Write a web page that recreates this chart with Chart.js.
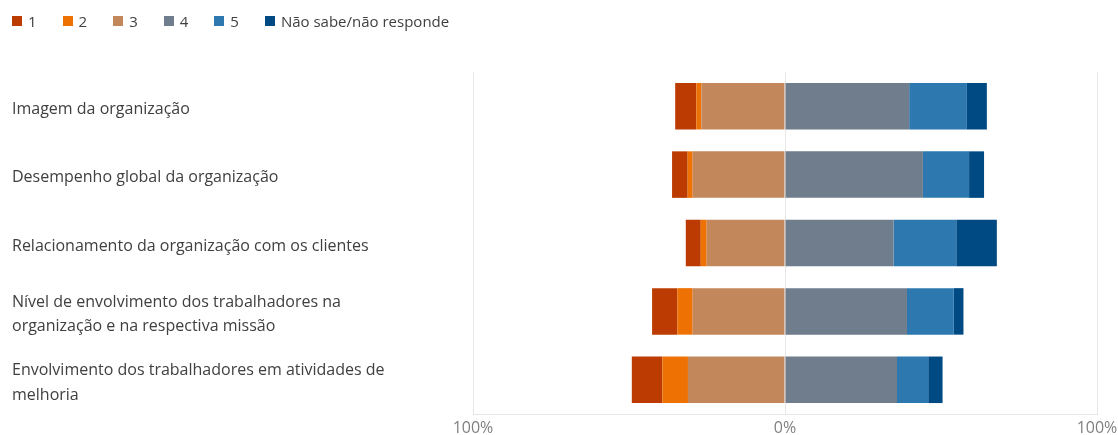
<!DOCTYPE html>
<html lang="pt">
<head>
<meta charset="utf-8">
<title>Avaliação da organização</title>
<script src="https://cdn.jsdelivr.net/npm/chart.js@4.4.1/dist/chart.umd.min.js"></script>
<style>
    html, body { margin: 0; padding: 0; background: #fff; }
    #wrap { position: relative; width: 1118px; height: 435px; }
    #legend {
        position: absolute; top: 11px; left: 12px;
        display: flex; align-items: center;
        font: 15px "Open Sans", sans-serif; line-height: 20px; color: #404040;
    }
    #legend .item { display: flex; align-items: center; margin-right: 26px; }
    #legend .box { width: 10px; height: 10px; margin-right: 6px; }
</style>
</head>
<body>
<div id="wrap">
    <canvas id="likertChart"></canvas>
    <div id="legend"></div>
</div>
<script>
const categories = [
    "Imagem da organização",
    "Desempenho global da organização",
    "Relacionamento da organização com os clientes",
    ["Nível de envolvimento dos trabalhadores na", "organização e na respectiva missão"],
    ["Envolvimento dos trabalhadores em atividades de", "melhoria"]
];

// percentagens de resposta por item (1 = pior ... 5 = melhor)
const answers1 = [6.8, 5.0, 4.8, 8.1, 9.8];
const answers2 = [1.6, 1.6, 1.9, 4.9, 8.2];
const answers3 = [26.8, 29.6, 25.1, 29.6, 31.1];
const answers4 = [39.8, 44.2, 34.8, 39.1, 35.9];
const answers5 = [18.5, 14.8, 20.1, 15.0, 10.0];
const answersNS = [6.4, 4.8, 13.0, 3.1, 4.6];

const seriesNames = ["1", "2", "3", "4", "5", "Não sabe/não responde"];
const axisTicks = [-100, 0, 100];

const COLORS = ["#BB3B02", "#EE7203", "#C2875B", "#6F7D8C", "#2C78AF", "#004A83"];

// 1-3 ficam à esquerda do zero, 3 encostado ao eixo
const negative = v => -v;
const seriesValues = [
    answers1.map(negative),
    answers2.map(negative),
    answers3.map(negative),
    answers4,
    answers5,
    answersNS
];
const stackOrder = [3, 2, 1, 4, 5, 6];

const FONT = "'Open Sans', sans-serif";

const htmlLegend = {
    id: "htmlLegend",
    afterUpdate(chart) {
        const container = document.getElementById("legend");
        container.innerHTML = "";
        chart.data.datasets.forEach(ds => {
            const item = document.createElement("div");
            item.className = "item";
            const box = document.createElement("span");
            box.className = "box";
            box.style.background = ds.backgroundColor;
            const text = document.createElement("span");
            text.textContent = ds.label;
            item.appendChild(box);
            item.appendChild(text);
            container.appendChild(item);
        });
    }
};

new Chart("likertChart", {
    type: "bar",
    data: {
        labels: categories,
        datasets: seriesNames.map((name, i) => ({
            label: name,
            data: seriesValues[i],
            backgroundColor: COLORS[i],
            borderWidth: 0,
            order: stackOrder[i],
            categoryPercentage: 0.68,
            barPercentage: 1
        }))
    },
    options: {
        indexAxis: "y",
        responsive: true,
        maintainAspectRatio: false,
        animation: false,
        layout: {
            padding: {top: 72, left: 12, right: 21, bottom: 0}
        },
        plugins: {
            legend: {display: false},
            tooltip: {enabled: false}
        },
        scales: {
            x: {
                stacked: true,
                min: -100,
                max: 100,
                afterBuildTicks: scale => {
                    scale.ticks = axisTicks.map(v => ({value: v}));
                },
                afterFit: scale => {
                    // a margem direita já chega para o rótulo "100%"
                    scale.height = 21;
                    scale.paddingLeft = 0;
                    scale.paddingRight = 0;
                },
                ticks: {
                    color: "#808080",
                    padding: 5,
                    font: {family: FONT, size: 16},
                    callback: v => Math.abs(v) + "%"
                },
                grid: {color: "#e6e6e6", drawTicks: false},
                border: {display: true, color: "#e6e6e6"}
            },
            y: {
                stacked: true,
                afterFit: scale => {
                    scale.width = 461;
                },
                ticks: {
                    crossAlign: "far",
                    color: "#404040",
                    padding: 0,
                    labelOffset: 3,
                    font: {family: FONT, size: 16, lineHeight: 1.55}
                },
                grid: {display: false},
                border: {display: false}
            }
        }
    },
    plugins: [htmlLegend]
});
</script>
</body>
</html>
